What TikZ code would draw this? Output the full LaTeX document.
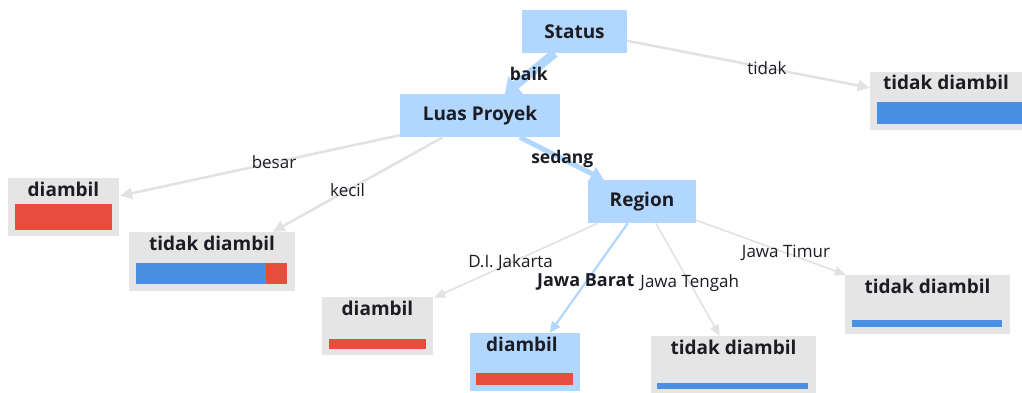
\documentclass[tikz,border=0pt]{standalone}
\usepackage{fontspec}
\setmainfont{Open Sans}
\usetikzlibrary{arrows.meta,calc}
\definecolor{lblue}{RGB}{178,215,255}
\definecolor{boxgray}{RGB}{229,229,229}
\definecolor{edgegray}{RGB}{226,226,226}
\definecolor{barred}{RGB}{231,77,61}
\definecolor{barblue}{RGB}{74,144,226}
\definecolor{txt}{RGB}{28,28,36}
\tikzset{
  bbox/.style={fill=lblue, draw=none, inner sep=0pt, text=txt, font=\bfseries\fontsize{19}{23}\selectfont},
  gbox/.style={fill=boxgray, draw=none, inner sep=0pt},
  ttl/.style={inner sep=0pt, text=txt, font=\bfseries\fontsize{19}{23}\selectfont},
  elbl/.style={inner sep=0pt, text=txt, font=\fontsize{17}{20}\selectfont},
  blbl/.style={inner sep=0pt, text=txt, font=\bfseries\fontsize{17.5}{21}\selectfont},
  gedge/.style={draw=edgegray, line width=2.5pt, -{Triangle[length=12pt,width=11pt]}},
  tedge/.style={draw=edgegray, line width=1.6pt, -{Triangle[length=11pt,width=9pt]}},
}
\begin{document}
\begin{tikzpicture}[x=1pt,y=-1pt]
\path[use as bounding box] (0,0) rectangle (1022,392);
\fill[white] (0,0) rectangle (1022,392);
\clip (0,0) rectangle (1022,392);
% decision nodes
\node[bbox, minimum width=105pt, minimum height=43pt] (s) at (574.5,31.5) {Status};
\node[bbox, minimum width=160pt, minimum height=43pt] (lp) at (480,115.5) {Luas Proyek};
\node[bbox, minimum width=108pt, minimum height=43pt] (rg) at (642,201.5) {Region};
% leaves
\node[gbox, minimum width=162pt, minimum height=58pt] (t1) at (951,101) {};
\node[gbox, minimum width=111pt, minimum height=58pt] (d1) at (63.5,207) {};
\node[gbox, minimum width=166pt, minimum height=59pt] (t2) at (212,261.5) {};
\node[gbox, minimum width=111pt, minimum height=58pt] (d2) at (377.5,326) {};
\node[bbox, minimum width=110pt, minimum height=58pt] (d3) at (525,362) {};
\node[gbox, minimum width=165pt, minimum height=58pt] (t3) at (733.5,365) {};
\node[gbox, minimum width=165pt, minimum height=59pt] (t4) at (927.5,304.5) {};
% leaf titles
\node[ttl] (t1l) at ($(t1.north)+(-5,11)$) {tidak diambil};
\node[ttl] (d1l) at ($(d1.north)+(0,12)$) {diambil};
\node[ttl] (t2l) at ($(t2.north)+(0,12)$) {tidak diambil};
\node[ttl] (d2l) at ($(d2.north)+(0,12)$) {diambil};
\node[ttl] (d3l) at ($(d3.north)+(-3,12)$) {diambil};
\node[ttl] (t3l) at ($(t3.north)+(0,12)$) {tidak diambil};
\node[ttl] (t4l) at ($(t4.north)+(0,12)$) {tidak diambil};
% bars
\fill[barblue] (877,102) rectangle (1022,124);
\fill[barred] (15,204) rectangle (112,230);
\fill[barblue] (136,263) rectangle (266,284);
\fill[barred] (266,263) rectangle (287,284);
\fill[barred] (329,339) rectangle (426,349);
\fill[barred] (476,373) rectangle (573,385);
\fill[barblue] (657,383) rectangle (808,389);
\fill[barblue] (852,320) rectangle (1002,327);
% edges
\draw[gedge] ($(s.north east)+(0,31)$) -- ($(t1.north west)+(0,16)$)
  node[elbl, pos=0.576] {tidak};
\draw[draw=lblue, line width=9pt, -{Triangle[length=14pt,width=22pt]}] ($(s.south west)+(33,0)$) -- ($(lp.north west)+(105,0)$)
  node[blbl, pos=0.52] {baik};
\draw[gedge] ($(lp.south west)+(0,-2)$) -- ($(d1.north east)+(1,18)$)
  node[elbl, pos=0.45] {besar};
\draw[gedge] ($(lp.south west)+(43,0)$) -- ($(t2.north west)+(144,0)$)
  node[elbl, pos=0.56] {kecil};
\draw[draw=lblue, line width=5pt, -{Triangle[length=13pt,width=15pt]}] ($(lp.south west)+(120,0)$) -- ($(rg.north west)+(16,0)$)
  node[blbl, pos=0.506] {sedang};
\draw[tedge] ($(rg.south west)+(10,0)$) -- ($(d2.north east)+(1,1)$)
  node[elbl, pos=0.533] {D.I. Jakarta};
\draw[draw=lblue, line width=2.2pt, -{Triangle[length=11pt,width=10pt]}] ($(rg.south west)+(40,0)$) -- ($(d3.north west)+(80,0)$)
  node[pos=0.54, inner sep=0pt, text=txt, font=\bfseries\fontsize{18}{22}\selectfont] {Jawa Barat};
\draw[tedge] ($(rg.south west)+(68,0)$) -- ($(t3.north west)+(69,0)$)
  node[elbl, pos=0.53] {Jawa Tengah};
\draw[tedge] ($(rg.south east)+(0,-3)$) -- ($(t4.north west)+(1,0)$)
  node[elbl, pos=0.6] {Jawa Timur};
\end{tikzpicture}
\end{document}
